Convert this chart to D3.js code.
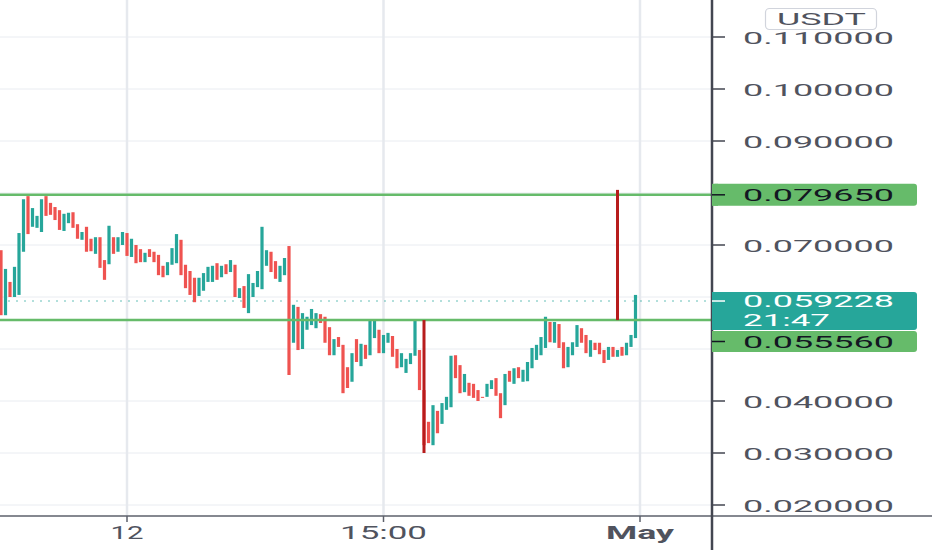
<!DOCTYPE html>
<html><head><meta charset="utf-8">
<script src="https://cdn.jsdelivr.net/npm/d3@7"></script>
<style>html,body{margin:0;padding:0;background:#fff;overflow:hidden}svg{display:block}</style>
</head><body>
<svg id="chart" width="932" height="550"></svg>
<script>
// ---------- data ----------
const opens = [0.0690,0.0565,0.0629,0.0600,0.0604,0.0687,0.0794,0.0735,0.0733,0.0725,
0.0794,0.0781,0.0773,0.0767,0.0727,0.0742,0.0763,0.0740,0.0710,0.0735,
0.0712,0.0683,0.0715,0.0671,0.0663,0.0715,0.0687,0.0700,0.0723,0.0677,
0.0700,0.0692,0.0667,0.0692,0.0687,0.0681,0.0660,0.0642,0.0662,0.0665,
0.0710,0.0662,0.0650,0.0637,0.0602,0.0612,0.0629,0.0629,0.0665,0.0638,
0.0663,0.0648,0.0662,0.0598,0.0621,0.0569,0.0600,0.0619,0.0615,0.0660,
0.0687,0.0669,0.0629,0.0642,0.0698,0.0512,0.0581,0.0500,0.0537,0.0546,
0.0540,0.0567,0.0562,0.0542,0.0488,0.0523,0.0508,0.0465,0.0437,0.0519,
0.0467,0.0508,0.0488,0.0521,0.0537,0.0492,0.0512,0.0525,0.0500,0.0465,
0.0454,0.0471,0.0487,0.0498,0.0421,0.0360,0.0315,0.0381,0.0356,0.0383,
0.0388,0.0488,0.0469,0.0417,0.0435,0.0433,0.0421,0.0408,0.0408,0.0423,
0.0444,0.0415,0.0392,0.0458,0.0433,0.0465,0.0437,0.0438,0.0463,0.0479,
0.0488,0.0502,0.0552,0.0512,0.0548,0.0513,0.0465,0.0488,0.0504,0.0540,
0.0527,0.0485,0.0512,0.0512,0.0498,0.0479,0.0504,0.0485,0.0504,0.0488,
0.0504,0.0521];
const closes = [0.0565,0.0654,0.0600,0.0658,0.0723,0.0788,0.0721,0.0771,0.0756,0.0788,
0.0756,0.0758,0.0748,0.0729,0.0760,0.0762,0.0733,0.0712,0.0725,0.0687,
0.0688,0.0715,0.0656,0.0633,0.0737,0.0683,0.0715,0.0725,0.0679,0.0712,
0.0665,0.0667,0.0685,0.0677,0.0667,0.0642,0.0638,0.0667,0.0694,0.0721,
0.0642,0.0617,0.0604,0.0590,0.0637,0.0646,0.0658,0.0660,0.0633,0.0660,
0.0644,0.0671,0.0600,0.0617,0.0579,0.0644,0.0627,0.0650,0.0735,0.0690,
0.0648,0.0635,0.0660,0.0675,0.0450,0.0585,0.0498,0.0569,0.0562,0.0577,
0.0569,0.0550,0.0512,0.0488,0.0519,0.0504,0.0415,0.0425,0.0492,0.0475,
0.0510,0.0481,0.0554,0.0556,0.0492,0.0527,0.0531,0.0485,0.0463,0.0492,
0.0481,0.0492,0.0554,0.0421,0.0315,0.0319,0.0392,0.0338,0.0396,0.0408,
0.0487,0.0444,0.0415,0.0452,0.0410,0.0406,0.0400,0.0406,0.0433,0.0440,
0.0410,0.0367,0.0452,0.0437,0.0463,0.0444,0.0460,0.0475,0.0502,0.0508,
0.0523,0.0562,0.0513,0.0552,0.0502,0.0463,0.0504,0.0513,0.0546,0.0512,
0.0492,0.0517,0.0498,0.0490,0.0473,0.0504,0.0485,0.0498,0.0487,0.0512,
0.0527,0.0604];
const lastPrice = 0.059228;
const lastTime = "21:47";
const levels = [0.079650, 0.055560];
const markers = [ {i: 94, from: 0.05556, to: 0.0300}, {i: 137, from: 0.0806, to: 0.05556} ];
const priceTicks = [0.02,0.03,0.04,0.05,0.06,0.07,0.08,0.09,0.10,0.11];
const timeTicks = [28, 85, 142];
const timeLabels = ["12", "15:00", "May"];
const currency = "USDT";

// ---------- layout ----------
const svg = d3.select("#chart");
const W = 932, H = 550, axisX = 712, axisY = 516;
const x = d3.scaleLinear().domain([0, 142]).range([1, 640]);
const y = d3.scaleLinear().domain([0.02, 0.11]).range([505, 37]);
const UP = "#26a69a", DOWN = "#ef5350", GREEN = "#66bb6a", DARK = "#b71c1c";
const FONT = "Roboto, 'Liberation Sans', sans-serif";

function fitText(sel, width) {
  sel.attr("textLength", width).attr("lengthAdjust", "spacingAndGlyphs");
}

// label boxes on the price scale
const boxes = [
  {y0: y(levels[0]) - 11, h: 22, fill: GREEN, color: "#131722", fs: 17,
   lines: [{text: levels[0].toFixed(6), by: y(levels[0]) + 6.5, w: 151}], dash: y(levels[0])},
  {y0: 292, h: 38, fill: UP, color: "#ffffff", fs: 16,
   lines: [{text: lastPrice.toFixed(6), by: 307, w: 151}, {text: lastTime, by: 325.5, w: 87}], dash: y(lastPrice)},
  {y0: 331, h: 21, fill: GREEN, color: "#131722", fs: 17,
   lines: [{text: levels[1].toFixed(6), by: 348, w: 151}], dash: 341.5}
];
// a tick label whose text lies (almost) entirely under a box is not visible in the chart
const hiddenByBox = v => boxes.some(b => y(v) - 3 >= b.y0 && y(v) + 3 <= b.y0 + b.h);

// grid
svg.append("g").selectAll("line").data(priceTicks).join("line")
  .attr("x1", 0).attr("x2", axisX).attr("y1", d => y(d)).attr("y2", d => y(d))
  .attr("stroke", "#e9ecf1").attr("stroke-width", 1);
svg.append("g").selectAll("line").data(timeTicks).join("line")
  .attr("x1", d => x(d)).attr("x2", d => x(d)).attr("y1", 0).attr("y2", axisY)
  .attr("stroke", "#e6e9ee").attr("stroke-width", 2.5);

// last price dotted line
svg.append("line").attr("x1", 0).attr("x2", axisX)
  .attr("y1", y(lastPrice)).attr("y2", y(lastPrice))
  .attr("stroke", UP).attr("stroke-opacity", 0.7).attr("stroke-width", 1)
  .attr("stroke-dasharray", "2,6");

// candles
const data = opens.map((o, i) => ({i, o, c: closes[i]}));
svg.append("g").selectAll("rect").data(data).join("rect")
  .attr("x", d => x(d.i) - 1.6).attr("width", 3.2)
  .attr("y", d => y(Math.max(d.o, d.c)))
  .attr("height", d => Math.max(1, Math.abs(y(d.o) - y(d.c))))
  .attr("fill", d => d.c >= d.o ? UP : DOWN);

// horizontal levels
svg.append("g").selectAll("line").data(levels).join("line")
  .attr("x1", 0).attr("x2", axisX).attr("y1", d => y(d)).attr("y2", d => y(d))
  .attr("stroke", GREEN).attr("stroke-width", 2.5);

// dark red markers
svg.append("g").selectAll("line").data(markers).join("line")
  .attr("x1", d => x(d.i)).attr("x2", d => x(d.i))
  .attr("y1", d => y(d.from)).attr("y2", d => y(d.to))
  .attr("stroke", DARK).attr("stroke-width", 3);

// axes lines
svg.append("line").attr("x1", 0).attr("x2", W).attr("y1", axisY).attr("y2", axisY)
  .attr("stroke", "#5d606b").attr("stroke-width", 1.5);
svg.append("line").attr("x1", axisX).attr("x2", axisX).attr("y1", 0).attr("y2", H)
  .attr("stroke", "#434651").attr("stroke-width", 2.5);

// time ticks and labels
svg.append("g").selectAll("line").data(timeTicks).join("line")
  .attr("x1", d => x(d)).attr("x2", d => x(d)).attr("y1", axisY).attr("y2", axisY + 6)
  .attr("stroke", "#5d606b").attr("stroke-width", 1.5);
const tWidths = [33, 87, 68];
timeTicks.forEach((t, k) => {
  const tx = svg.append("text").attr("x", x(t) - tWidths[k] / 2).attr("y", 539)
    .attr("font-family", FONT).attr("font-size", 18)
    .attr("font-weight", timeLabels[k] === "May" ? "bold" : "normal")
    .attr("fill", "#50535e").text(timeLabels[k]);
  fitText(tx, tWidths[k]);
});

// price ticks and labels
svg.append("g").selectAll("line").data(priceTicks).join("line")
  .attr("x1", axisX).attr("x2", axisX + 13).attr("y1", d => y(d)).attr("y2", d => y(d))
  .attr("stroke", "#434651").attr("stroke-width", 1.5);
svg.append("g").selectAll("text").data(priceTicks.filter(v => !hiddenByBox(v))).join("text")
  .attr("x", 743).attr("y", d => y(d) + 6.5)
  .attr("font-family", FONT).attr("font-size", 17).attr("fill", "#50535e")
  .text(d => d.toFixed(6))
  .each(function () { fitText(d3.select(this), 151); });

// level boxes
boxes.forEach(b => {
  svg.append("rect").attr("x", axisX).attr("y", b.y0).attr("width", 205).attr("height", b.h)
    .attr("rx", 3).attr("fill", b.fill);
  svg.append("rect").attr("x", axisX).attr("y", b.y0).attr("width", 6).attr("height", b.h).attr("fill", b.fill);
  b.lines.forEach(l => {
    const t = svg.append("text").attr("x", 743).attr("y", l.by)
      .attr("font-family", FONT).attr("font-size", b.fs).attr("fill", b.color).text(l.text);
    fitText(t, l.w);
  });
  svg.append("line").attr("x1", axisX).attr("x2", axisX + 13).attr("y1", b.dash).attr("y2", b.dash)
    .attr("stroke", b.color).attr("stroke-width", 1.5);
});

// currency badge
svg.append("rect").attr("x", 765.5).attr("y", 8.5).attr("width", 111).attr("height", 21)
  .attr("rx", 4).attr("fill", "#fff").attr("stroke", "#d1d4dc").attr("stroke-width", 1.2);
fitText(svg.append("text").attr("x", 777).attr("y", 25).attr("font-family", FONT)
  .attr("font-size", 17).attr("fill", "#50535e").text(currency), 89);
</script>
</body></html>
